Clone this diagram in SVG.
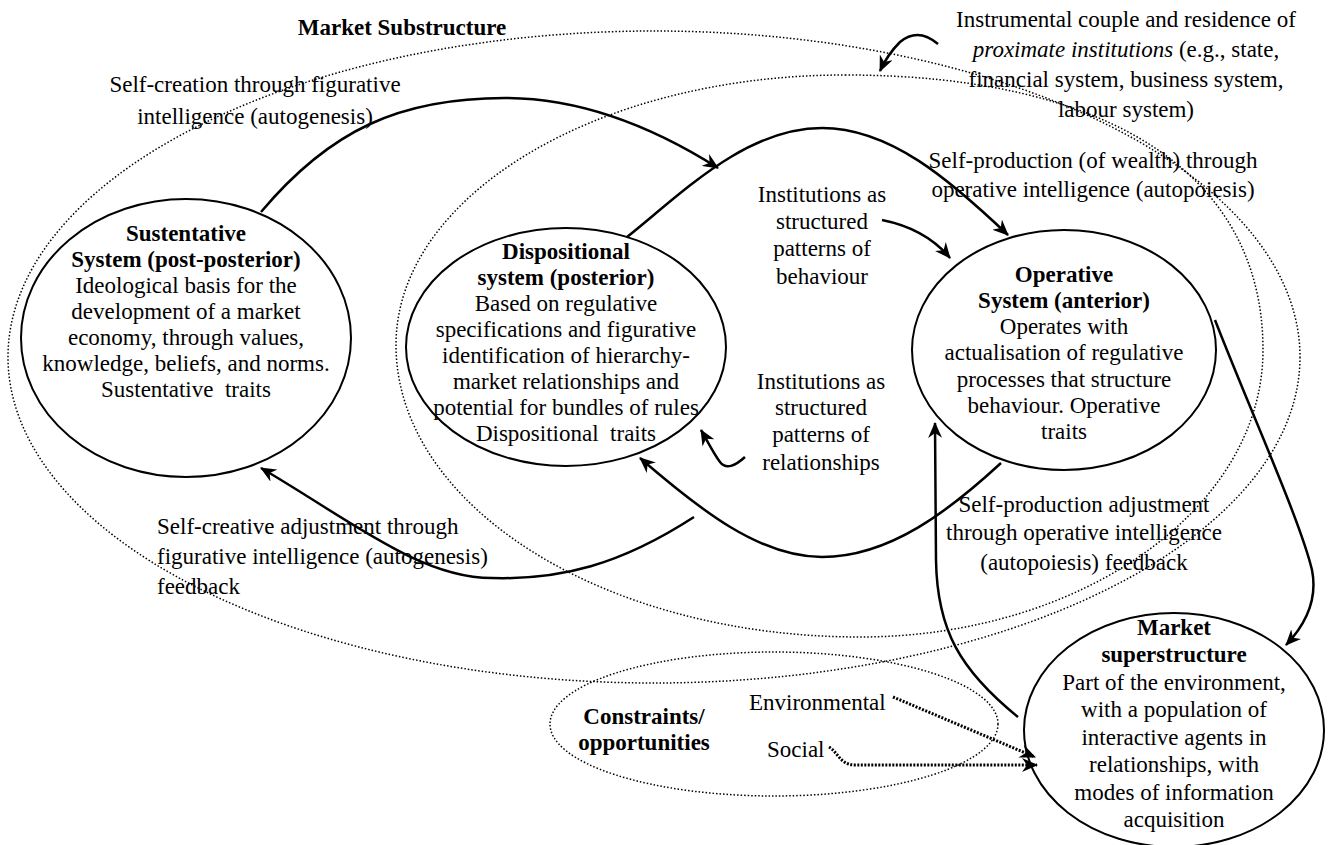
<svg xmlns="http://www.w3.org/2000/svg" width="1329" height="845" viewBox="0 0 1329 845">
<defs>
<style>
text{font-family:"Liberation Serif","Times New Roman",serif;font-size:23px;fill:#000}
.c{text-anchor:middle}
.b{font-weight:bold}
.node{fill:#fff;stroke:#000;stroke-width:2}
.dot{fill:none;stroke:#000;stroke-width:1.5;stroke-dasharray:1.5 2}
.arr{fill:none;stroke:#000;stroke-width:2.5;marker-end:url(#ah)}
.darr{fill:none;stroke:#000;stroke-width:3;stroke-dasharray:2 1.5;marker-end:url(#ah)}
</style>
<marker id="ah" markerUnits="userSpaceOnUse" markerWidth="18" markerHeight="14" refX="15" refY="7" orient="auto">
<path d="M0,0 L16,7 L0,14 L5,7 z" fill="#000"/>
</marker>
</defs>
<rect width="1329" height="845" fill="#fff"/>

<g id="market-substructure">
<ellipse class="dot" cx="654" cy="357" rx="646" ry="326"/>
<text class="c b" x="402" y="35">Market Substructure</text>
</g>

<g id="proximate-institutions">
<path class="dot" d="M845,75 C1110,75 1263,175 1263,350 C1263,508 1082,637 860,637 C604,637 396,506 396,345 C396,196 597,75 845,75 Z"/>
</g>

<g id="constraints">
<ellipse class="dot" cx="774" cy="724" rx="224" ry="72"/>
<text class="c b" x="644" y="724">Constraints/</text>
<text class="c b" x="644" y="750">opportunities</text>
<text x="749" y="710">Environmental</text>
<text x="767" y="757">Social</text>
</g>

<g id="sustentative">
<ellipse class="node" cx="186" cy="338" rx="165" ry="139"/>
<text class="c" x="186"><tspan class="b" x="186" y="241">Sustentative</tspan><tspan class="b" x="186" y="267">System (post-posterior)</tspan><tspan x="186" y="293">Ideological basis for the</tspan><tspan x="186" y="319">development of a market</tspan><tspan x="186" y="345">economy, through values,</tspan><tspan x="186" y="371">knowledge, beliefs, and norms.</tspan><tspan x="186" y="397" xml:space="preserve">Sustentative  traits</tspan></text>
</g>

<g id="dispositional">
<ellipse class="node" cx="566" cy="347" rx="160" ry="119"/>
<text class="c" x="566"><tspan class="b" x="566" y="259">Dispositional</tspan><tspan class="b" x="566" y="285">system (posterior)</tspan><tspan x="566" y="311">Based on regulative</tspan><tspan x="566" y="337">specifications and figurative</tspan><tspan x="566" y="363">identification of hierarchy-</tspan><tspan x="566" y="389">market relationships and</tspan><tspan x="566" y="415">potential for bundles of rules</tspan><tspan x="566" y="441" xml:space="preserve">Dispositional  traits</tspan></text>
</g>

<g id="operative">
<ellipse class="node" cx="1064" cy="350" rx="152" ry="120"/>
<text class="c" x="1064"><tspan class="b" x="1064" y="282">Operative</tspan><tspan class="b" x="1064" y="308">System (anterior)</tspan><tspan x="1064" y="334">Operates with</tspan><tspan x="1064" y="360">actualisation of regulative</tspan><tspan x="1064" y="387">processes that structure</tspan><tspan x="1064" y="413">behaviour. Operative</tspan><tspan x="1064" y="439">traits</tspan></text>
</g>

<g id="market-superstructure">
<ellipse class="node" cx="1174" cy="730" rx="150" ry="117"/>
<text class="c" x="1174"><tspan class="b" x="1174" y="635">Market</tspan><tspan class="b" x="1174" y="662">superstructure</tspan><tspan x="1174" y="690">Part of the environment,</tspan><tspan x="1174" y="717">with a population of</tspan><tspan x="1174" y="745">interactive agents in</tspan><tspan x="1174" y="772">relationships, with</tspan><tspan x="1174" y="800">modes of information</tspan><tspan x="1174" y="827">acquisition</tspan></text>
</g>

<g id="labels">
<text class="c"><tspan x="255" y="92">Self-creation through figurative</tspan><tspan x="255" y="124">intelligence (autogenesis)</tspan></text>
<text class="c"><tspan x="1126" y="27">Instrumental couple and residence of</tspan><tspan x="1126" y="57"><tspan font-style="italic">proximate institutions</tspan> (e.g., state,</tspan><tspan x="1126" y="87">financial system, business system,</tspan><tspan x="1126" y="117">labour system)</tspan></text>
<text class="c"><tspan x="1093" y="168">Self-production (of wealth) through</tspan><tspan x="1093" y="197">operative intelligence (autopoiesis)</tspan></text>
<text class="c"><tspan x="822" y="202">Institutions as</tspan><tspan x="822" y="229">structured</tspan><tspan x="822" y="256">patterns of</tspan><tspan x="822" y="284">behaviour</tspan></text>
<text class="c"><tspan x="821" y="389">Institutions as</tspan><tspan x="821" y="415">structured</tspan><tspan x="821" y="442">patterns of</tspan><tspan x="821" y="470">relationships</tspan></text>
<text><tspan x="157" y="534">Self-creative adjustment through</tspan><tspan x="157" y="564">figurative intelligence (autogenesis)</tspan><tspan x="157" y="594">feedback</tspan></text>
<text class="c"><tspan x="1084" y="512">Self-production adjustment</tspan><tspan x="1084" y="540">through operative intelligence</tspan><tspan x="1084" y="570">(autopoiesis) feedback</tspan></text>
</g>

<g id="connectors">
<path class="arr" d="M261,212 C330,130 400,98 505,98 C580,98 650,125 718,168"/>
<path class="arr" d="M627,237 C680,195 745,128 822,128 C890,128 950,180 1008,235"/>
<path class="arr" d="M882,220 C912,226 935,240 950,258"/>
<path class="arr" d="M745,457 C735,466 726,470 720,462 C714,454 708,442 701,430"/>
<path class="arr" d="M694,517 C620,565 560,580 492,578 C420,578 350,520 261,468"/>
<path class="arr" d="M1001,463 C950,510 890,557 822,557 C760,557 700,510 640,458"/>
<path class="arr" d="M1018,717 C960,670 937,630 936,560 L935,423"/>
<path class="arr" d="M1215,320 C1250,410 1300,520 1312,570 C1318,600 1305,625 1286,645"/>
<path class="arr" d="M938,44 C925,33 912,32 900,42 C892,50 885,60 880,71"/>
<path class="darr" d="M893,697 L1035,757"/>
<path class="darr" d="M829,747 C838,752 840,765 855,765 L1037,765"/>
</g>
</svg>
